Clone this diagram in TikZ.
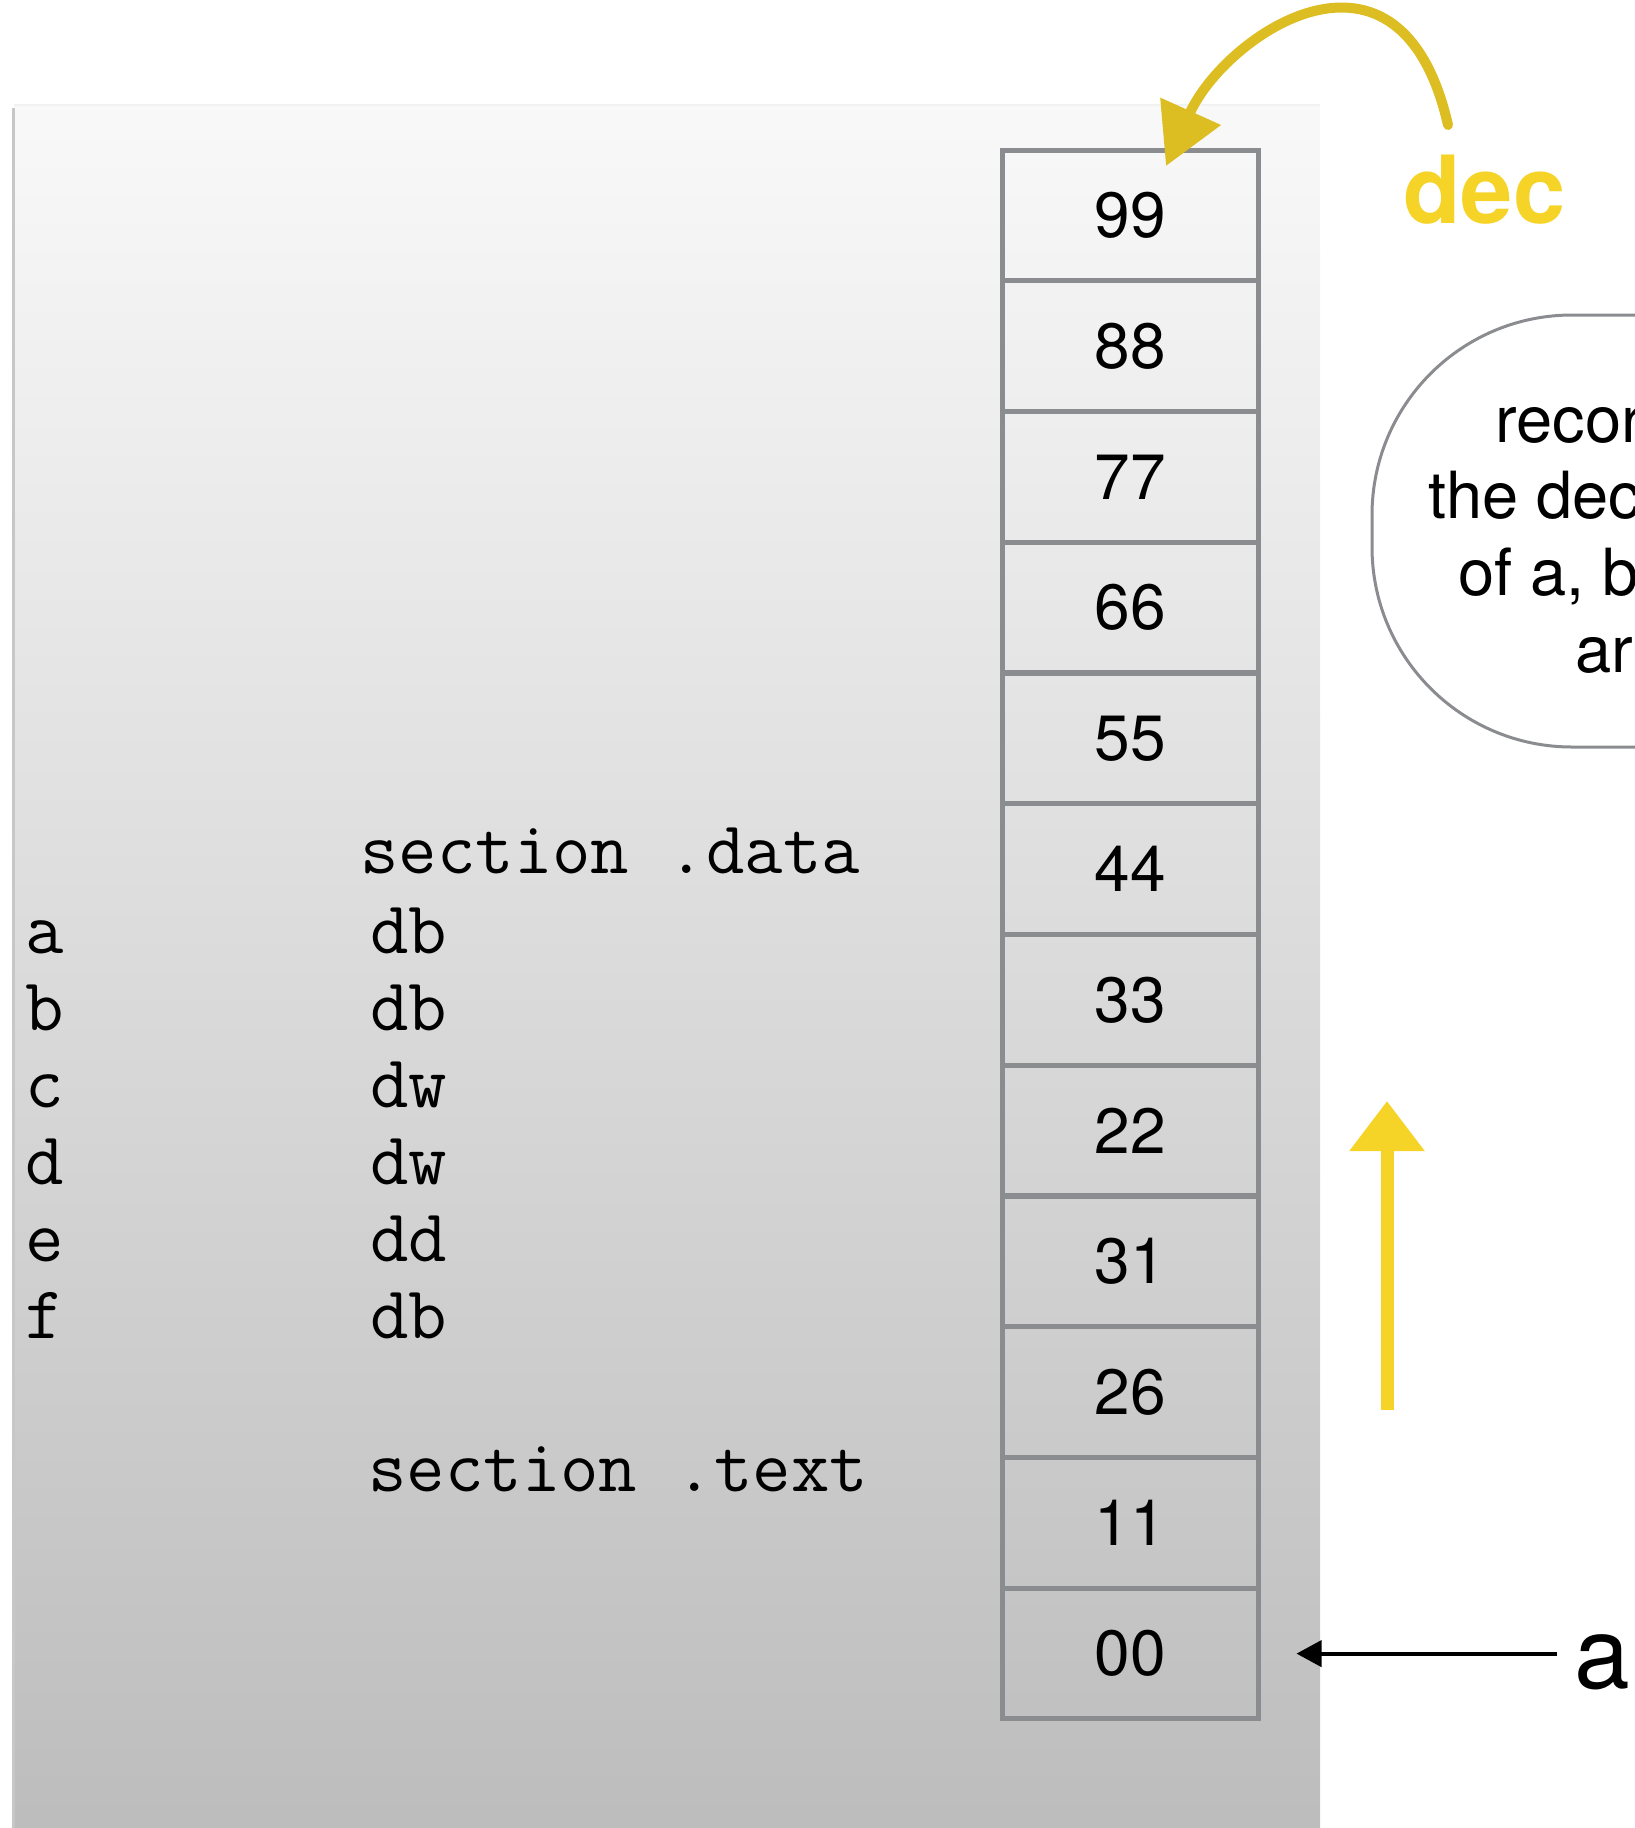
\documentclass[tikz,border=0pt]{standalone}
\usepackage{fontspec}
\setmainfont{TeX Gyre Heros}
\usetikzlibrary{arrows.meta}
\usetikzlibrary{calc}

\definecolor{cellgray}{HTML}{8A8C90}
\definecolor{decyellow}{HTML}{F5D327}
\definecolor{chalk}{HTML}{DCBD22}

\begin{document}
\begin{tikzpicture}[x=0.5pt, y=-0.5pt,
    cell/.style = {draw=cellgray, line width=2.5pt, minimum width=128pt, minimum height=65.375pt, inner sep=0pt, font=\fontsize{32}{32}\selectfont},
    code/.style = {anchor=base west, inner sep=0pt, font=\ttfamily\fontsize{37.3}{37.3}\selectfont},
    note/.style = {anchor=base west, inner sep=0pt, font=\fontsize{32.5}{32.5}\selectfont}]
    \useasboundingbox (0,0) rectangle (1635,1828);

    % grey page
    \fill[top color=black!2.5, bottom color=black!26] (14,106) rectangle (1320,1828);
    \draw[black!22, line width=1.5pt] (13,108) -- (13,1828);
    \draw[black!5, line width=1pt] (14,105) -- (1320,105);

    % memory cells
    \node [cell] (m0)  at (1130, 215.4) {99};
    \node [cell] (m1)  at (1130, 346.1) {88};
    \node [cell] (m2)  at (1130, 476.9) {77};
    \node [cell] (m3)  at (1130, 607.6) {66};
    \node [cell] (m4)  at (1130, 738.4) {55};
    \node [cell] (m5)  at (1130, 869.1) {44};
    \node [cell] (m6)  at (1130, 999.9) {33};
    \node [cell] (m7)  at (1130,1130.6) {22};
    \node [cell] (m8)  at (1130,1261.4) {31};
    \node [cell] (m9)  at (1130,1392.1) {26};
    \node [cell] (m10) at (1130,1522.9) {11};
    \node [cell] (m11) at (1130,1653.6) {00};

    % source
    \node [code] (sdata) at (360, 873) {section .data};
    \node [code] (va) at (25, 953)  {a};  \node [code] (ta) at (370, 953)  {db};
    \node [code] (vb) at (25, 1030) {b};  \node [code] (tb) at (370, 1030) {db};
    \node [code] (vc) at (25, 1107) {c};  \node [code] (tc) at (370, 1107) {dw};
    \node [code] (vd) at (25, 1184) {d};  \node [code] (td) at (370, 1184) {dw};
    \node [code] (ve) at (25, 1261) {e};  \node [code] (te) at (370, 1261) {dd};
    \node [code] (vf) at (25, 1338) {f};  \node [code] (tf) at (370, 1338) {db};
    \node [code] (stext) at (368, 1491) {section .text};

    % dec
    \node [anchor=base west, inner sep=0pt, text=decyellow, font=\bfseries\fontsize{47}{47}\selectfont] (dec) at (1403,223) {dec};
    \coordinate (decfrom) at (1448,125);
    \coordinate (decto) at (1166,166);
    \draw[chalk, line width=5pt, line cap=round, -{Triangle[length=30pt,width=32pt]}] (decfrom) .. controls (1400,-85) and (1225,35) .. (decto);

    % note
    \draw[cellgray, line width=1.5pt, fill=white, rounded corners=100pt] (1372,315) rectangle (2000,747);
    \node [note] (n1) at (1495,442) {recor};
    \node [note] (n2) at (1428,518) {the dec};
    \node [note] (n3) at (1458,595) {of a, b};
    \node [note] (n4) at (1575,672) {ar};

    % upward arrow
    \coordinate (upfrom) at (1387,1410);
    \coordinate (upto) at (1387,1101);
    \draw[decyellow, line width=6.5pt, -{Triangle[length=25pt,width=36pt]}] (upfrom) -- (upto);

    % a
    \node [anchor=base west, inner sep=0pt, font=\fontsize{50}{50}\selectfont] (alabel) at (1574,1688) {a};
    \draw[line width=2pt, -{Triangle[length=12.5pt,width=13pt]}, shorten <=8.5pt, shorten >=18pt] (alabel.west |- m11.east) -- (m11.east);

\end{tikzpicture}
\end{document}
